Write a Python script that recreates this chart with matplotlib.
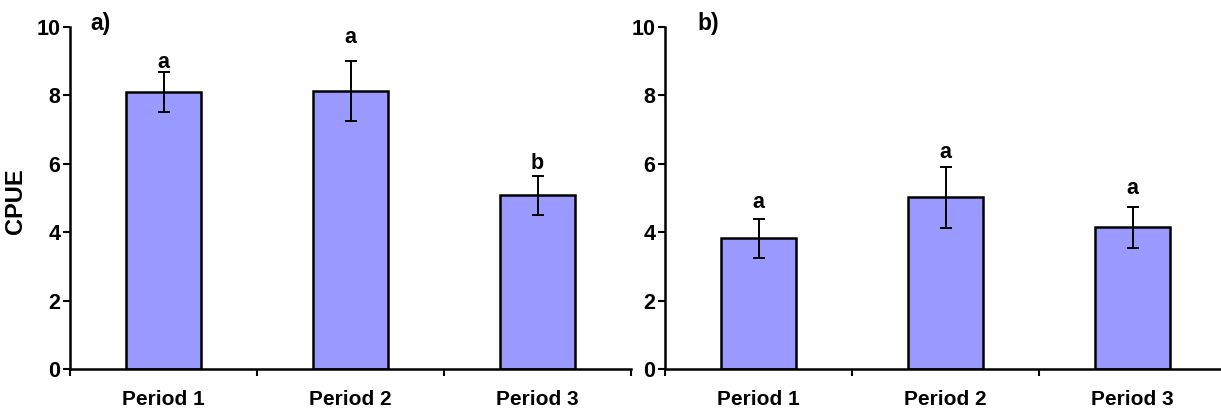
import matplotlib
matplotlib.use("Agg")
import matplotlib.pyplot as plt

# values
periods = ["Period 1", "Period 2", "Period 3"]
cpue_a = [8.10, 8.12, 5.08]
err_a = [0.59, 0.88, 0.57]
letters_a = ["a", "a", "b"]
letter_y_a = [8.97, 9.70, 6.02]

cpue_b = [3.82, 5.02, 4.14]
err_b = [0.58, 0.90, 0.59]
letters_b = ["a", "a", "a"]
letter_y_b = [4.88, 6.34, 5.29]

plt.rcParams["font.family"] = ["Liberation Sans", "DejaVu Sans"]
plt.rcParams["font.weight"] = "bold"

W, H = 1221, 409
fig = plt.figure(figsize=(W / 100, H / 100), dpi=100)
ax_a = fig.add_axes([70 / W, 40 / H, 561 / W, 342 / H])
ax_b = fig.add_axes([665 / W, 40 / H, 561 / W, 342 / H])


def draw_panel(ax, vals, errs, letters, letter_y, tag, tag_x):
    x = range(len(vals))
    ax.bar(x, vals, width=0.4, color="#9999ff", edgecolor="black", linewidth=1.8, zorder=2)
    ax.errorbar(x, vals, yerr=errs, fmt="none", ecolor="black", elinewidth=1.4,
                capsize=4.5, capthick=1.4, zorder=3)
    for i, (lab, ly) in enumerate(zip(letters, letter_y)):
        ax.text(i, ly, lab, ha="center", va="center", fontsize=15.5, fontweight="bold")
    ax.set_xlim(-0.5, 2.5)
    ax.set_ylim(0, 10)
    ax.set_yticks([0, 2, 4, 6, 8, 10])
    ax.set_xticks(list(x))
    ax.set_xticklabels(periods, fontsize=15, fontweight="bold")
    ax.set_xticks([-0.5, 0.5, 1.5, 2.5], minor=True)
    ax.tick_params(axis="x", which="major", length=0, pad=15)
    ax.tick_params(axis="x", which="minor", length=5, width=1.5, direction="out")
    ax.tick_params(axis="y", length=5, width=1.5, direction="out", labelsize=15.5, pad=2)
    for lbl in ax.get_yticklabels():
        lbl.set_fontweight("bold")
    for s in ["top", "right"]:
        ax.spines[s].set_visible(False)
    for s in ["left", "bottom"]:
        ax.spines[s].set_linewidth(1.8)
    ax.text(tag_x, 1.01, tag, transform=ax.transAxes, ha="left", va="center",
            fontsize=16.5, fontweight="bold")


draw_panel(ax_a, cpue_a, err_a, letters_a, letter_y_a, "a)", 0.037)
draw_panel(ax_b, cpue_b, err_b, letters_b, letter_y_b, "b)", 0.057)
ax_a.set_ylabel("CPUE", fontsize=17, fontweight="bold")
ax_a.yaxis.set_label_coords(-0.077, 0.49)

fig.savefig("out.png", dpi=100)
